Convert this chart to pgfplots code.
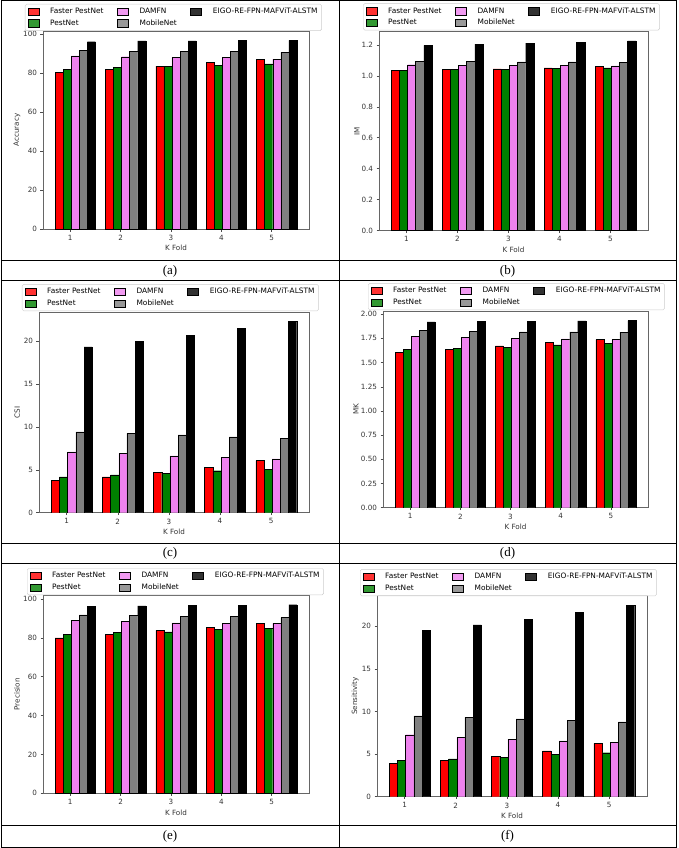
\documentclass[border=0pt]{standalone}
\usepackage{fontspec}
\setmainfont{DejaVu Sans}
\newfontfamily\capfont{Liberation Serif}
\usepackage{pgfplots}
\usepackage{pgfplotstable}
\pgfplotsset{compat=1.18}

\definecolor{cRed}{HTML}{FF0000}
\definecolor{cGreen}{HTML}{008000}
\definecolor{cViolet}{HTML}{EE82EE}
\definecolor{cGray}{HTML}{808080}

\newcommand{\pf}{\fontsize{7.2}{8.6}\selectfont}
\newcommand{\lf}{\fontsize{7.4}{8.8}\selectfont}

% Accuracy
\pgfplotstableread{
k fpn pn dam mob eigo
1 80.5 81.9 88.8 91.7 96.1
2 82.1 82.9 88.4 91.3 96.5
3 83.6 83.5 88.1 91.3 96.5
4 85.5 84.1 87.9 91.0 96.7
5 87.1 84.7 87.2 90.8 96.8
}\tabA
% IM
\pgfplotstableread{
k fpn pn dam mob eigo
1 1.035 1.038 1.072 1.096 1.197
2 1.040 1.042 1.068 1.093 1.205
3 1.045 1.043 1.067 1.091 1.211
4 1.052 1.047 1.066 1.091 1.219
5 1.060 1.052 1.064 1.087 1.226
}\tabB
% CSI
\pgfplotstableread{
k fpn pn dam mob eigo
1 3.75 4.17 7.10 9.42 19.35
2 4.17 4.42 6.93 9.26 20.00
3 4.72 4.62 6.64 9.07 20.70
4 5.30 4.90 6.47 8.85 21.48
5 6.08 5.07 6.27 8.67 22.30
}\tabC
% MK
\pgfplotstableread{
k fpn pn dam mob eigo
1 1.603 1.634 1.772 1.831 1.921
2 1.634 1.648 1.762 1.824 1.924
3 1.672 1.659 1.752 1.817 1.928
4 1.707 1.683 1.745 1.817 1.931
5 1.738 1.697 1.740 1.814 1.934
}\tabD
% Precision
\pgfplotstableread{
k fpn pn dam mob eigo
1 80.0 81.9 88.8 91.8 96.3
2 81.9 82.8 88.4 91.4 96.4
3 83.8 83.1 87.7 91.2 96.6
4 85.2 84.3 87.5 91.2 96.8
5 87.4 84.8 87.4 90.4 97.0
}\tabE
% Sensitivity
\pgfplotstableread{
k fpn pn dam mob eigo
1 3.90 4.26 7.27 9.49 19.49
2 4.25 4.43 6.95 9.32 20.16
3 4.77 4.65 6.76 9.12 20.82
4 5.39 4.98 6.56 8.95 21.64
5 6.25 5.16 6.40 8.79 22.46
}\tabF

\pgfplotsset{
  panel/.style={
    scale only axis, anchor=south west,
    ybar, bar width=0.16,
    xmin=0.46, xmax=5.74, ymin=0,
    xtick={1,2,3,4,5},
    tick align=outside, xtick pos=lower, ytick pos=left,
    major tick length=2.5pt,
    every tick/.style={black!70, line width=0.5pt},
    axis line style={black!60, line width=0.7pt},
    tick label style={font=\pf, text=black!80},
    label style={font=\pf, text=black!80},
    /pgf/number format/assume math mode=true,
    xlabel={K Fold},
    xlabel style={at={(axis description cs:0.5,-0.097)}, anchor=center},
    every axis plot/.append style={draw=black, line width=0.4pt},
    legend columns=3,
    legend cell align=left,
    legend style={anchor=north west, at={(axis description cs:0,1)},
      draw=black!20, rounded corners=1.5pt, fill=white, fill opacity=0.8,
      text opacity=1, font=\lf, inner xsep=2.5pt, inner ysep=1.5pt,
      nodes={inner xsep=1.6pt, inner ysep=2.3pt},
      /tikz/every odd column/.append style={column sep=9.5pt},
      /tikz/every even column/.append style={column sep=12pt}},
    legend image code/.code={\draw[##1,draw=black,line width=0.4pt,sharp corners] (0pt,-3.7pt) rectangle (11pt,3.7pt);},
  }
}

\newcommand{\fivebars}[1]{%
  \addplot[fill=cRed, bar shift=-0.22] table[x=k,y=fpn]{#1};
  \addplot[fill=cViolet, bar shift=0.10] table[x=k,y=dam]{#1};
  \addplot[fill=black, bar shift=0.42] table[x=k,y=eigo]{#1};
  \addplot[fill=cGreen, bar shift=-0.06] table[x=k,y=pn]{#1};
  \addplot[fill=cGray, bar shift=0.26] table[x=k,y=mob]{#1};
  \legend{Faster PestNet, DAMFN, EIGO-RE-FPN-MAFViT-ALSTM, PestNet, MobileNet}
}

\begin{document}
\begin{tikzpicture}
\path[use as bounding box] (0pt,0pt) rectangle (678pt,-848pt);

% (a)
\begin{axis}[panel, at={(43pt,-229pt)}, width=266pt, height=198pt,
  ymax=101.6, ytick={0,20,40,60,80,100},
  ylabel={Accuracy}, ylabel style={at={(axis description cs:-0.098,0.5)}, anchor=center},
  legend style={xshift=-18pt, yshift=27pt}]
\fivebars{\tabA}
\end{axis}

% (b)
\begin{axis}[panel, at={(379pt,-230.5pt)}, width=269pt, height=199pt,
  ymax=1.287, ytick={0,0.2,0.4,0.6,0.8,1.0,1.2},
  yticklabel style={/pgf/number format/.cd, fixed, fixed zerofill, precision=1},
  ylabel={IM}, ylabel style={at={(axis description cs:-0.082,0.5)}, anchor=center},
  legend style={xshift=-16pt, yshift=28pt}]
\fivebars{\tabB}
\end{axis}

% (c)
\begin{axis}[panel, at={(39pt,-512.7pt)}, width=270pt, height=200.5pt,
  ymax=23.4, ytick={0,5,10,15,20},
  ylabel={CSI}, ylabel style={at={(axis description cs:-0.081,0.5)}, anchor=center},
  legend style={xshift=-17pt, yshift=28pt}]
\fivebars{\tabC}
\end{axis}

% (d)
\begin{axis}[panel, at={(383pt,-507.7pt)}, width=265pt, height=196.5pt,
  ymax=2.031, ytick={0,0.25,0.5,0.75,1.0,1.25,1.5,1.75,2.0},
  yticklabel style={/pgf/number format/.cd, fixed, fixed zerofill, precision=2},
  ylabel={MK}, ylabel style={at={(axis description cs:-0.102,0.5)}, anchor=center},
  legend style={xshift=-15pt, yshift=28pt}]
\fivebars{\tabD}
\end{axis}

% (e)
\begin{axis}[panel, at={(43pt,-793.3pt)}, width=266pt, height=198pt,
  ymax=101.85, ytick={0,20,40,60,80,100},
  ylabel={Precision}, ylabel style={at={(axis description cs:-0.098,0.5)}, anchor=center},
  legend style={xshift=-16pt, yshift=27pt}]
\fivebars{\tabE}
\end{axis}

% (f)
\begin{axis}[panel, at={(377pt,-796.7pt)}, width=270pt, height=201pt,
  ymax=23.58, ytick={0,5,10,15,20},
  ylabel={Sensitivity}, ylabel style={at={(axis description cs:-0.081,0.5)}, anchor=center},
  legend style={xshift=-17pt, yshift=26.5pt}]
\fivebars{\tabF}
\end{axis}

% table grid
\draw[line width=1pt] (1pt,-0.5pt) rectangle (676pt,-847.3pt);
\foreach \yy in {260.5,280.7,543.3,563.7,825.7}
  \draw[line width=1pt] (1pt,-\yy pt) -- (676pt,-\yy pt);
\draw[line width=1pt] (339pt,-0.5pt) -- (339pt,-847.3pt);

% captions
\node[font=\capfont\fontsize{13}{15}\selectfont] at (170pt,-271pt) {(a)};
\node[font=\capfont\fontsize{13}{15}\selectfont] at (507.5pt,-271pt) {(b)};
\node[font=\capfont\fontsize{13}{15}\selectfont] at (170pt,-553.5pt) {(c)};
\node[font=\capfont\fontsize{13}{15}\selectfont] at (507.5pt,-553.5pt) {(d)};
\node[font=\capfont\fontsize{13}{15}\selectfont] at (170pt,-836.5pt) {(e)};
\node[font=\capfont\fontsize{13}{15}\selectfont] at (507.5pt,-836.5pt) {(f)};
\end{tikzpicture}
\end{document}
